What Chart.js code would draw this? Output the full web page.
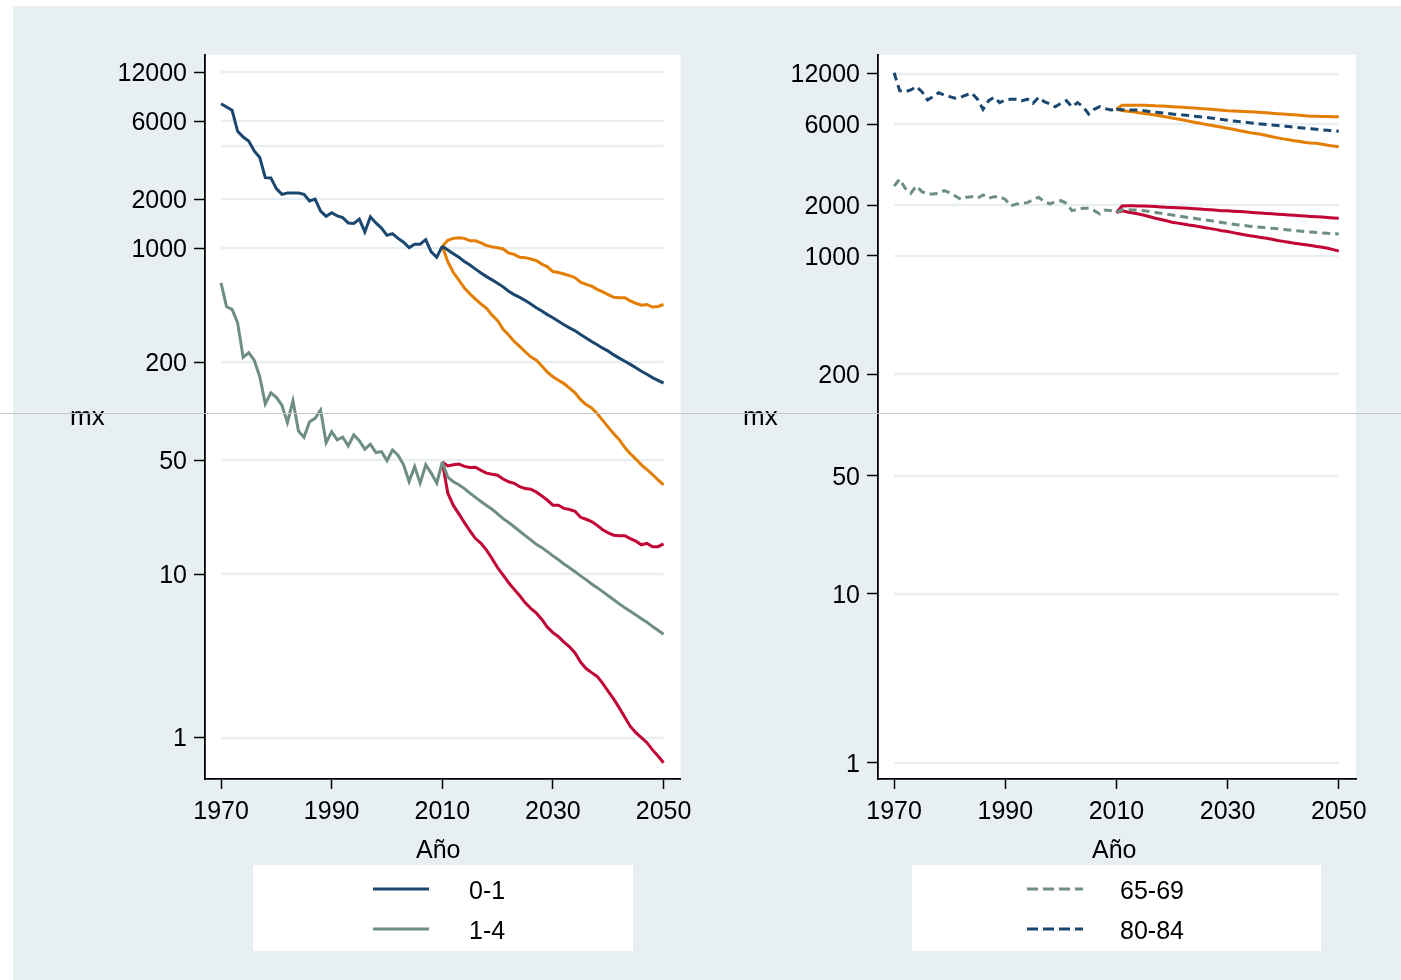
<!DOCTYPE html>
<html><head><meta charset="utf-8">
<script src="https://cdn.jsdelivr.net/npm/chart.js@4.4.0/dist/chart.umd.min.js"></script>
<style>
html,body{margin:0;padding:0;background:#fff;width:1401px;height:980px;overflow:hidden;font-family:"Liberation Sans",Arial,sans-serif;}
#bg{position:absolute;left:13px;top:6px;width:1388px;height:974px;background:#e8eff2;}
.wrap{position:absolute;top:0;height:980px;}
.t{position:absolute;font-size:25px;line-height:25px;color:#000;white-space:nowrap;}
.legend{position:absolute;background:#fff;}
#hline{position:absolute;left:0;top:413px;width:1401px;height:1px;background:#c6c6c6;z-index:10;}
svg{position:absolute;left:0;top:0;}
</style></head><body>
<div id="bg"></div>
<div class="wrap" style="left:0;width:700px"><canvas id="c1" width="700" height="980"></canvas></div>
<div class="wrap" style="left:700px;width:701px"><canvas id="c2" width="701" height="980"></canvas></div>

<div class="t" style="left:70px;top:404px;font-size:26px">mx</div>
<div class="t" style="left:743px;top:404px;font-size:26px">mx</div>
<div class="t" style="left:416px;top:837px">Año</div>
<div class="t" style="left:1092px;top:837px">Año</div>

<div class="legend" style="left:253px;top:865px;width:380px;height:86px"></div>
<div class="legend" style="left:912px;top:865px;width:409px;height:86px"></div>
<svg width="1401" height="980" style="pointer-events:none">
  <line x1="373" y1="889" x2="429" y2="889" stroke="#1a476f" stroke-width="3"/>
  <line x1="373" y1="929" x2="429" y2="929" stroke="#6e8e84" stroke-width="3"/>
  <line x1="1027" y1="889" x2="1083" y2="889" stroke="#6e8e84" stroke-width="3" stroke-dasharray="11 5"/>
  <line x1="1027" y1="929" x2="1083" y2="929" stroke="#1a476f" stroke-width="3" stroke-dasharray="11 5"/>
</svg>
<div class="t" style="left:469px;top:878px">0-1</div>
<div class="t" style="left:469px;top:918px">1-4</div>
<div class="t" style="left:1120px;top:878px">65-69</div>
<div class="t" style="left:1120px;top:918px">80-84</div>
<div id="hline"></div>

<script>
// ---------- data ----------
const histYears = [1970,1971,1972,1973,1974,1975,1976,1977,1978,1979,1980,1981,1982,1983,1984,1985,1986,1987,1988,1989,1990,1991,1992,1993,1994,1995,1996,1997,1998,1999,2000,2001,2002,2003,2004,2005,2006,2007,2008,2009,2010];
const projYears = [2010,2011,2012,2013,2014,2015,2016,2017,2018,2019,2020,2021,2022,2023,2024,2025,2026,2027,2028,2029,2030,2031,2032,2033,2034,2035,2036,2037,2038,2039,2040,2041,2042,2043,2044,2045,2046,2047,2048,2049,2050];
const xTicks = [1970,1990,2010,2030,2050];
const yTicks = [1,10,50,200,1000,2000,6000,12000];
const leftExtraGrid = [4240];

// left panel: 0-1 and 1-4
const age01Hist = [7700,7350,7010,5210,4810,4550,3950,3600,2710,2700,2320,2140,2180,2180,2180,2140,1950,2000,1690,1570,1650,1580,1540,1430,1420,1510,1260,1560,1430,1330,1200,1230,1150,1090,1010,1060,1060,1130,950,880,1030];
const age01Med = [1030,975,925,880,830,790,745,705,670,640,610,580,545,520,500,478,455,432,412,392,375,357,340,325,312,296,282,268,256,244,234,222,212,203,194,185,176,169,161,155,149];
const age01Hi = [1030,1120,1150,1158,1150,1110,1110,1080,1040,1020,1006,990,935,918,880,876,860,840,800,770,720,710,695,680,660,620,600,586,560,540,520,500,498,497,475,460,448,452,436,440,452];
const age01Lo = [1030,826,710,638,570,525,488,455,428,389,360,318,294,268,250,232,216,206,190,174,163,155,148,139,130,118,110,105,97,88,80,73,67,60,55,51,47,44,41,38,35.4];

const age14Hist = [614,438,422,349,214,229,206,163,111,130,122,109,85.3,116,75.8,69.4,86.5,90.7,102,64.3,75.1,66.8,69.4,61.4,71.7,66.2,58.6,62.9,55.9,56.7,49.9,58.0,53.8,47.0,37.1,45.9,36.3,47.0,41.8,36.3,49];
const age14Med = [49,39.5,37.0,35.5,33.6,31.5,29.7,28.0,26.5,25.1,23.5,22.0,20.8,19.6,18.4,17.3,16.3,15.3,14.6,13.8,13.0,12.3,11.6,11.0,10.4,9.8,9.3,8.75,8.3,7.85,7.4,7.0,6.6,6.25,5.95,5.65,5.35,5.1,4.8,4.55,4.3];
const age14Hi = [49,46.3,47,47.6,46,45.3,45.4,43.5,41.8,41.2,40.6,38.5,37,36.2,34.5,33.6,33.3,32,30.3,28.5,26.6,26.6,25.4,25,24.4,22.4,21.8,21.1,20,18.8,18,17.4,17.3,17.3,16.6,16,15.2,15.5,14.8,14.8,15.4];
const age14Lo = [49,31.5,26.5,23.5,20.8,18.5,16.6,15.5,14.1,12.5,11.0,9.9,8.9,8.1,7.4,6.7,6.2,5.8,5.3,4.75,4.4,4.15,3.85,3.6,3.3,2.9,2.65,2.5,2.37,2.15,1.92,1.72,1.52,1.33,1.17,1.07,1.0,0.93,0.84,0.77,0.70];

// right panel: 65-69 and 80-84
const age8084Hist = [12150,9510,9380,9600,10040,9380,8380,8770,9250,8970,8770,8570,8690,8970,9180,8460,7380,8300,8690,8080,8380,8460,8460,8300,8460,8000,8690,8190,7930,7640,8000,8300,7640,8080,7640,6920,7380,7640,7440,7310,7380];
const age8084Med = [7380,7340,7320,7310,7300,7240,7170,7100,7040,6980,6920,6870,6820,6770,6720,6670,6620,6550,6490,6420,6360,6300,6240,6190,6140,6090,6040,5990,5960,5910,5870,5830,5790,5740,5700,5660,5620,5580,5540,5500,5470];
const age8084Hi = [7380,7790,7800,7800,7790,7790,7780,7740,7720,7680,7650,7620,7580,7540,7500,7470,7420,7380,7330,7280,7240,7220,7190,7160,7130,7110,7070,7030,6990,6950,6920,6880,6840,6800,6760,6720,6700,6690,6680,6670,6670];
const age8084Lo = [7380,7250,7180,7130,7030,6960,6890,6830,6740,6640,6550,6460,6370,6280,6190,6100,6010,5930,5850,5780,5700,5620,5530,5450,5370,5310,5250,5160,5080,5000,4930,4870,4810,4760,4700,4660,4640,4580,4520,4470,4430];

const age6569Hist = [2596,2843,2516,2349,2596,2403,2328,2328,2349,2436,2370,2265,2163,2224,2244,2194,2296,2194,2244,2244,2163,1977,2032,2050,2069,2163,2224,2098,2032,2098,2125,2050,1855,1890,1915,1915,1855,1773,1872,1855,1804];
const age6569Med = [1804,1880,1875,1873,1872,1850,1830,1810,1790,1770,1749,1728,1708,1689,1670,1651,1633,1615,1597,1578,1560,1542,1525,1513,1501,1489,1478,1468,1458,1447,1436,1425,1414,1404,1393,1385,1377,1369,1362,1355,1349];
const age6569Hi = [1804,1977,1980,1980,1975,1975,1970,1960,1950,1940,1935,1928,1920,1915,1905,1895,1885,1875,1865,1855,1850,1842,1835,1825,1815,1805,1795,1785,1775,1765,1758,1749,1740,1730,1722,1715,1709,1700,1690,1680,1671];
const age6569Lo = [1804,1850,1820,1795,1773,1740,1705,1671,1645,1615,1585,1565,1545,1525,1508,1491,1471,1452,1432,1412,1395,1375,1355,1337,1319,1303,1288,1272,1255,1235,1220,1205,1188,1178,1165,1152,1138,1125,1110,1090,1071];

// ---------- styling ----------
const NAVY = '#1a476f', TEAL = '#6e8e84', ORANGE = '#e37e00', RED = '#c10534';
const GRID = '#e8eff2';
const FONT = '"Liberation Sans", Arial, sans-serif';

const pts = (xs, ys) => xs.map((x, i) => ({x: x, y: ys[i]}));
function ds(label, xs, ys, color, dashed) {
  return {label, data: pts(xs, ys), borderColor: color, backgroundColor: color,
          borderWidth: 3, borderDash: dashed ? [8,5] : [], pointRadius: 0, fill: false, tension: 0};
}

const plotBg = {
  id: 'plotBg',
  beforeDraw(chart) {
    const {ctx, chartArea: a} = chart;
    ctx.save(); ctx.fillStyle = '#fff';
    ctx.fillRect(a.left, a.top, a.right - a.left, a.bottom - a.top);
    ctx.restore();
  }
};
const stataGrid = {
  id: 'stataGrid',
  beforeDatasetsDraw(chart, args, opts) {
    const {ctx, scales: {x, y}} = chart;
    const x0 = x.getPixelForValue(1970), x1 = x.getPixelForValue(2050);
    ctx.save(); ctx.strokeStyle = GRID; ctx.lineWidth = 2.5;
    for (const v of opts.values) {
      const py = Math.round(y.getPixelForValue(v));
      ctx.beginPath(); ctx.moveTo(x0, py); ctx.lineTo(x1, py); ctx.stroke();
    }
    ctx.restore();
  }
};

function makeOptions(yMin, yMax, yWidth, padRight, gridValues) {
  return {
    responsive: false, animation: false, events: [],
    layout: {padding: {left: 0, right: padRight, top: 55, bottom: 0}},
    plugins: {legend: {display: false}, tooltip: {enabled: false}, stataGrid: {values: gridValues}},
    scales: {
      x: {
        type: 'linear', min: 1967.1, max: 2053.1,
        afterBuildTicks: s => { s.ticks = xTicks.map(v => ({value: v})); },
        ticks: {font: {size: 25, family: FONT}, color: '#000', padding: 8, maxRotation: 0, autoSkip: false,
                callback: v => String(v)},
        grid: {drawOnChartArea: false, drawTicks: true, tickLength: 10, tickColor: '#000', tickWidth: 1.5},
        border: {display: true, color: '#000', width: 1.8},
        afterFit: s => { s.height = 201; }
      },
      y: {
        type: 'logarithmic', min: yMin, max: yMax,
        afterBuildTicks: s => { s.ticks = yTicks.map(v => ({value: v})); },
        ticks: {font: {size: 25, family: FONT}, color: '#000', padding: 7, autoSkip: false, labelOffset: 2,
                callback: v => String(v)},
        grid: {drawOnChartArea: false, drawTicks: true, tickLength: 11, tickColor: '#000', tickWidth: 1.5},
        border: {display: true, color: '#000', width: 1.8},
        afterFit: s => { s.width = yWidth; }
      }
    }
  };
}

new Chart(document.getElementById('c1'), {
  type: 'line',
  data: {datasets: [
    ds('0-1', histYears, age01Hist, NAVY),
    ds('0-1 proj', projYears, age01Med, NAVY),
    ds('1-4', histYears, age14Hist, TEAL),
    ds('1-4 proj', projYears, age14Med, TEAL),
    ds('0-1 hi', projYears, age01Hi, ORANGE),
    ds('0-1 lo', projYears, age01Lo, ORANGE),
    ds('1-4 hi', projYears, age14Hi, RED),
    ds('1-4 lo', projYears, age14Lo, RED)
  ]},
  options: makeOptions(0.557, 15310, 205, 18, yTicks.concat(leftExtraGrid)),
  plugins: [plotBg, stataGrid]
});

new Chart(document.getElementById('c2'), {
  type: 'line',
  data: {datasets: [
    ds('80-84', histYears, age8084Hist, NAVY, true),
    ds('80-84 proj', projYears, age8084Med, NAVY, true),
    ds('65-69', histYears, age6569Hist, TEAL, true),
    ds('65-69 proj', projYears, age6569Med, TEAL, true),
    ds('80-84 hi', projYears, age8084Hi, ORANGE),
    ds('80-84 lo', projYears, age8084Lo, ORANGE),
    ds('65-69 hi', projYears, age6569Hi, RED),
    ds('65-69 lo', projYears, age6569Lo, RED)
  ]},
  options: makeOptions(0.804, 15460, 178, 45, yTicks),
  plugins: [plotBg, stataGrid]
});
</script>
</body></html>
